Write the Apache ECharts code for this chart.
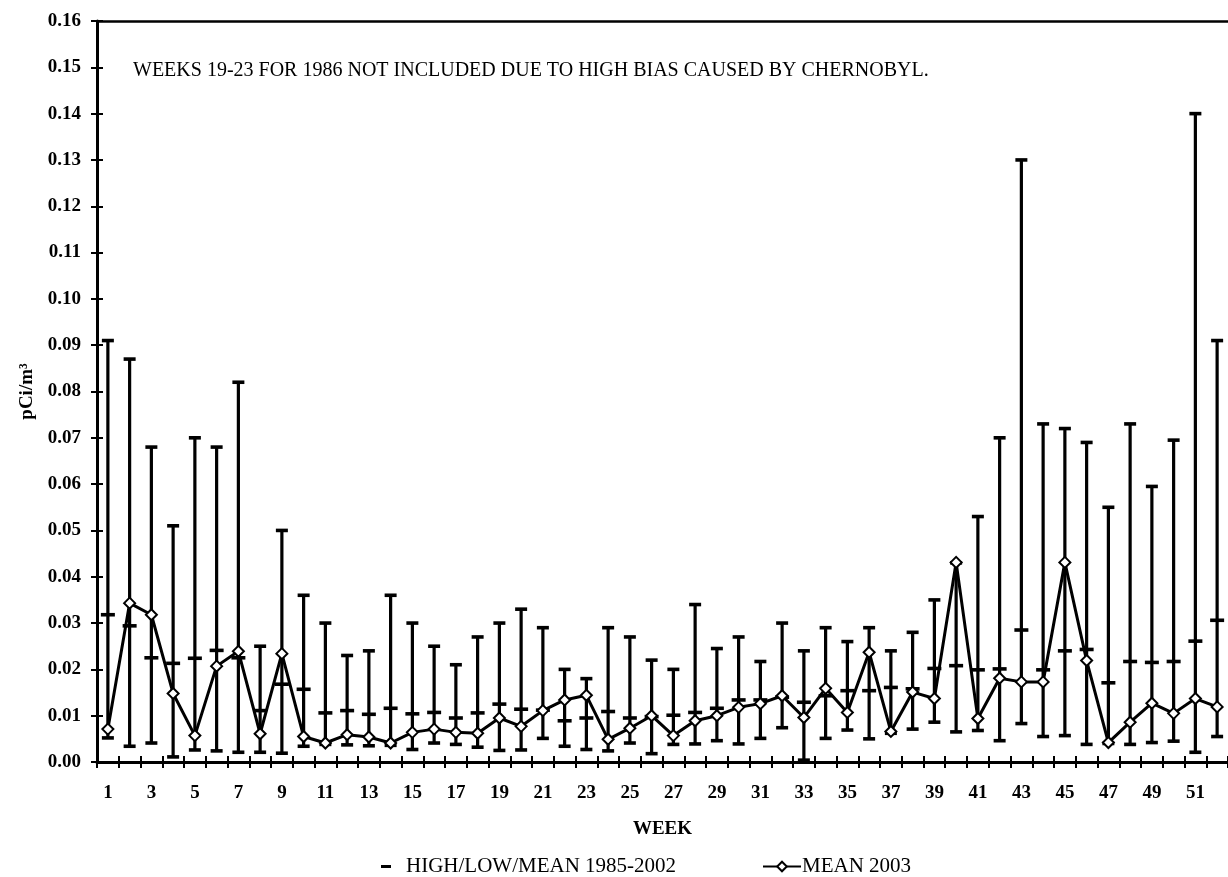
<!DOCTYPE html>
<html>
<head>
<meta charset="utf-8">
<script src="https://cdn.jsdelivr.net/npm/echarts@6/dist/echarts.min.js"></script>
<style>
  html, body { margin: 0; padding: 0; background: #fff; }
  #chart { width: 1228px; height: 877px; }
</style>
</head>
<body>
<div id="chart"></div>
<script>
// Weekly air concentrations, pCi/m3
const weeks = Array.from({ length: 52 }, (_, i) => String(i + 1));

// 1985-2002 historical range and mean per week
const high8502 = [
  0.091, 0.087, 0.068, 0.051, 0.070, 0.068, 0.082, 0.025, 0.050, 0.036,
  0.030, 0.023, 0.024, 0.036, 0.030, 0.025, 0.021, 0.027, 0.030, 0.033,
  0.029, 0.020, 0.018, 0.029, 0.027, 0.022, 0.020, 0.034, 0.0245, 0.027,
  0.0217, 0.030, 0.024, 0.029, 0.026, 0.029, 0.024, 0.028, 0.035, 0.043,
  0.053, 0.070, 0.130, 0.073, 0.072, 0.069, 0.055, 0.073, 0.0595, 0.0695,
  0.140, 0.091
];
const low8502 = [
  0.0052, 0.0034, 0.0041, 0.0011, 0.0026, 0.0024, 0.0021, 0.0021, 0.0019, 0.0034,
  0.0038, 0.0037, 0.0035, 0.0036, 0.0027, 0.0041, 0.0038, 0.0032, 0.0025, 0.0026,
  0.0051, 0.0034, 0.0027, 0.0024, 0.0041, 0.0018, 0.0038, 0.0039, 0.0046, 0.0039,
  0.0051, 0.0074, 0.0004, 0.0051, 0.0069, 0.0050, 0.0062, 0.0071, 0.0086, 0.0065,
  0.0068, 0.0046, 0.0083, 0.0055, 0.0057, 0.0038, 0.0040, 0.0038, 0.0042, 0.0045,
  0.0021, 0.0055
];
const mean8502 = [
  0.0318, 0.0294, 0.0225, 0.0213, 0.0224, 0.0241, 0.0225, 0.0111, 0.0168, 0.0157,
  0.0106, 0.0111, 0.0103, 0.0116, 0.0104, 0.0107, 0.0095, 0.0106, 0.0125, 0.0114,
  0.0112, 0.0089, 0.0095, 0.0109, 0.0095, 0.0098, 0.0101, 0.0107, 0.0116, 0.0134,
  0.0134, 0.0140, 0.0129, 0.0143, 0.0154, 0.0154, 0.0161, 0.0158, 0.0202, 0.0208,
  0.0199, 0.0201, 0.0285, 0.0199, 0.0240, 0.0243, 0.0171, 0.0217, 0.0215, 0.0217,
  0.0261, 0.0306
];

// 2003 weekly mean
const mean2003 = [
  0.0071, 0.0343, 0.0318, 0.0148, 0.0057, 0.0207, 0.0239, 0.0061, 0.0234, 0.0055,
  0.0041, 0.0059, 0.0054, 0.0041, 0.0064, 0.0071, 0.0064, 0.0062, 0.0095, 0.0077,
  0.0111, 0.0134, 0.0144, 0.0049, 0.0073, 0.0100, 0.0057, 0.0089, 0.0100, 0.0118,
  0.0126, 0.0143, 0.0096, 0.0159, 0.0107, 0.0237, 0.0066, 0.0151, 0.0137, 0.0431,
  0.0094, 0.0181, 0.0173, 0.0173, 0.0431, 0.0219, 0.0042, 0.0086, 0.0127, 0.0105,
  0.0137, 0.0119
];

const noteText = 'WEEKS 19-23 FOR 1986 NOT INCLUDED DUE TO HIGH BIAS CAUSED BY CHERNOBYL.';
const seriesHist = 'HIGH/LOW/MEAN 1985-2002';
const series2003 = 'MEAN 2003';

const FONT = 'Liberation Serif';

const rangeData = weeks.map((w, i) => [i, low8502[i], high8502[i], mean8502[i]]);

// whisker from low to high with caps, plus a tick at the mean
function renderRange(params, api) {
  const idx = api.value(0);
  const lo = api.coord([idx, api.value(1)]);
  const hi = api.coord([idx, api.value(2)]);
  const mn = api.coord([idx, api.value(3)]);
  const cap = 6, tick = 7;
  const st = { stroke: '#000', lineWidth: 3.2 };
  const capSt = { stroke: '#000', lineWidth: 3.6 };
  return {
    type: 'group',
    children: [
      { type: 'line', shape: { x1: hi[0], y1: hi[1], x2: lo[0], y2: lo[1] }, style: st },
      { type: 'line', shape: { x1: hi[0] - cap, y1: hi[1], x2: hi[0] + cap, y2: hi[1] }, style: capSt },
      { type: 'line', shape: { x1: lo[0] - cap, y1: lo[1], x2: lo[0] + cap, y2: lo[1] }, style: capSt },
      { type: 'line', shape: { x1: mn[0] - tick, y1: mn[1], x2: mn[0] + tick, y2: mn[1] }, style: capSt }
    ]
  };
}

const chart = echarts.init(document.getElementById('chart'), null, { renderer: 'canvas' });

const yCommon = {
  type: 'value', min: 0, max: 0.16, interval: 0.01,
  splitLine: { show: false }
};
const xCommon = {
  type: 'category', data: weeks, boundaryGap: true,
  splitLine: { show: false }
};

chart.setOption({
  backgroundColor: '#fff',
  animation: false,
  textStyle: { fontFamily: FONT, color: '#000' },
  grid: { left: 97, top: 21, width: 1134, height: 741, show: false },
  xAxis: [
    Object.assign({}, xCommon, {
      name: 'WEEK', nameLocation: 'middle', nameGap: 58,
      nameTextStyle: { fontFamily: FONT, fontWeight: 'bold', fontSize: 19, color: '#000' },
      axisLine: { show: true, lineStyle: { color: '#000', width: 3 } },
      axisTick: { show: true, inside: false, length: 6, interval: 0, lineStyle: { color: '#000', width: 2 } },
      axisLabel: { interval: 1, margin: 22, fontFamily: FONT, fontWeight: 'bold', fontSize: 19, color: '#000' }
    }),
    Object.assign({}, xCommon, {
      position: 'bottom',
      axisLine: { show: false },
      axisTick: { show: true, inside: true, length: 6, interval: 0, lineStyle: { color: '#000', width: 2 } },
      axisLabel: { show: false }
    }),
    // top frame line
    Object.assign({}, xCommon, {
      position: 'top',
      axisLine: { show: true, lineStyle: { color: '#000', width: 2.5 } },
      axisTick: { show: false },
      axisLabel: { show: false }
    })
  ],
  yAxis: [
    Object.assign({}, yCommon, {
      name: 'pCi/m³', nameLocation: 'middle', nameGap: 53, nameRotate: 90,
      nameTextStyle: { fontFamily: FONT, fontWeight: 'bold', fontSize: 19, color: '#000' },
      axisLine: { show: true, lineStyle: { color: '#000', width: 3 } },
      axisTick: { show: true, inside: false, length: 6, lineStyle: { color: '#000', width: 2 } },
      axisLabel: {
        margin: 16, fontFamily: FONT, fontWeight: 'bold', fontSize: 19, color: '#000',
        formatter: v => v.toFixed(2)
      }
    }),
    Object.assign({}, yCommon, {
      position: 'left',
      axisLine: { show: false },
      axisTick: { show: true, inside: true, length: 6, lineStyle: { color: '#000', width: 2 } },
      axisLabel: { show: false }
    })
  ],
  legend: [
    {
      data: [{ name: seriesHist, icon: 'rect' }],
      left: 376, top: 851, itemWidth: 10, itemHeight: 3,
      textStyle: { fontFamily: FONT, fontSize: 21, color: '#000', padding: [0, 0, 0, 10] }
    },
    {
      data: [series2003],
      left: 757, top: 851, itemWidth: 38, itemHeight: 12, itemGap: 0,
      textStyle: { fontFamily: FONT, fontSize: 21, color: '#000', padding: [0, 0, 0, -4] }
    }
  ],
  graphic: [
    {
      type: 'text', left: 133, top: 61,
      style: { text: noteText, font: '20px "Liberation Serif"', fill: '#000' }
    }
  ],
  series: [
    {
      name: seriesHist, type: 'custom', renderItem: renderRange,
      xAxisIndex: 0, yAxisIndex: 0,
      encode: { x: 0, y: [1, 2, 3] },
      itemStyle: { color: '#000' },
      data: rangeData, z: 2
    },
    {
      name: series2003, type: 'line', data: mean2003,
      xAxisIndex: 0, yAxisIndex: 0,
      symbol: 'diamond', symbolSize: 11, showAllSymbol: true,
      lineStyle: { color: '#000', width: 3 },
      itemStyle: { color: '#fff', borderColor: '#000', borderWidth: 2 },
      z: 3
    }
  ]
});
</script>
</body>
</html>
